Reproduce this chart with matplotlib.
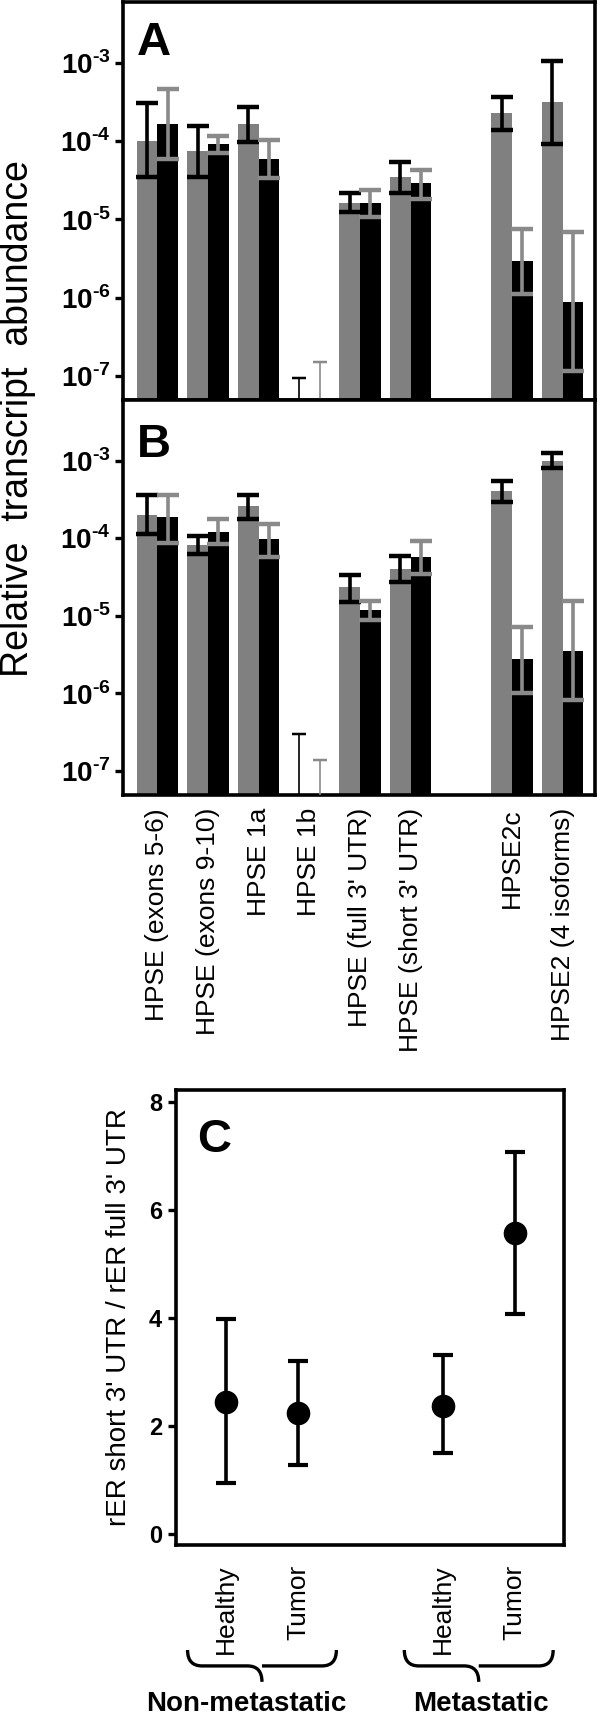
import matplotlib
matplotlib.use("Agg")
import matplotlib.pyplot as plt
import numpy as np
from matplotlib.path import Path
from matplotlib.patches import PathPatch

plt.rcParams['font.family'] = ['Liberation Sans', 'DejaVu Sans']
plt.rcParams['mathtext.fontset'] = 'custom'
plt.rcParams['mathtext.rm'] = 'Liberation Sans:bold'
plt.rcParams['mathtext.bf'] = 'Liberation Sans:bold'

# ---------------- data ----------------
genes = ["HPSE (exons 5-6)", "HPSE (exons 9-10)", "HPSE 1a", "HPSE 1b",
         "HPSE (full 3' UTR)", "HPSE (short 3' UTR)", "HPSE2c", "HPSE2 (4 isoforms)"]
gene_pos = [0, 1, 2, 3, 4, 5, 7, 8]

# panel A  (gray = healthy, black = tumor)
a_gray = [1.0e-4, 7.4e-5, 1.65e-4, 1e-8, 1.6e-5, 3.5e-5, 2.3e-4, 3.2e-4]
a_gray_lo = [3.5e-5, 3.5e-5, 9.7e-5, 1e-9, 1.23e-5, 2.2e-5, 1.38e-4, 9.1e-5]
a_gray_hi = [3.1e-4, 1.55e-4, 2.7e-4, 9.3e-8, 2.15e-5, 5.5e-5, 3.7e-4, 1.07e-3]
a_black = [1.65e-4, 9.1e-5, 6.0e-5, 1e-8, 1.6e-5, 2.9e-5, 2.95e-6, 8.9e-7]
a_black_lo = [5.9e-5, 7.0e-5, 3.4e-5, 1e-9, 1.07e-5, 1.8e-5, 1.12e-6, 1.15e-7]
a_black_hi = [4.6e-4, 1.15e-4, 1.04e-4, 1.48e-7, 2.35e-5, 4.3e-5, 7.6e-6, 7.0e-6]

# panel B
b_gray = [2.0e-4, 8.1e-5, 2.6e-4, 1e-8, 2.35e-5, 4.0e-5, 4.0e-4, 1.0e-3]
b_gray_lo = [1.12e-4, 6.3e-5, 1.74e-4, 1e-9, 1.5e-5, 2.75e-5, 2.9e-4, 7.9e-4]
b_gray_hi = [3.6e-4, 1.07e-4, 3.6e-4, 3.0e-7, 3.4e-5, 5.9e-5, 5.4e-4, 1.26e-3]
b_black = [1.85e-4, 1.2e-4, 9.8e-5, 1e-8, 1.2e-5, 5.8e-5, 2.8e-6, 3.5e-6]
b_black_lo = [8.7e-5, 8.3e-5, 5.7e-5, 1e-9, 8.9e-6, 3.5e-5, 1.0e-6, 8.1e-7]
b_black_hi = [3.6e-4, 1.74e-4, 1.5e-4, 1.4e-7, 1.55e-5, 9.1e-5, 7.2e-6, 1.55e-5]

# panel C
c_labels = ["Healthy", "Tumor", "Healthy", "Tumor"]
c_pos = [1, 2, 4, 5]
c_vals = [2.44, 2.24, 2.37, 5.57]
c_lo = [0.94, 1.28, 1.50, 4.07]
c_hi = [3.98, 3.20, 3.31, 7.07]
groups = ["Non-metastatic", "Metastatic"]
group_pos = [1.5, 4.5]

GRAY = "#808080"
EGRAY = "#8a8a8a"
ymin, ymax = 10 ** -7.31, 10 ** -2.22

fig = plt.figure(figsize=(6, 17.16), dpi=100)
axA = fig.add_axes([0.205, 0.7669, 0.7867, 0.2319])
axB = fig.add_axes([0.205, 0.5367, 0.7867, 0.2302])
axC = fig.add_axes([0.2933, 0.0997, 0.6467, 0.2651])


def bar_panel(ax, g, glo, ghi, k, klo, khi, letter, ly):
    x = np.array(gene_pos, dtype=float)
    w = 0.41
    ax.bar(x - w / 2, g, w, color=GRAY, zorder=1)
    ax.bar(x + w / 2, k, w, color="black", zorder=1)
    for i in range(len(x)):
        thin = g[i] < ymin
        lw = 1.2 if thin else 2.6
        cs = 5 if thin else 8
        ax.errorbar(x[i] - w / 2, g[i], yerr=[[g[i] - glo[i]], [ghi[i] - g[i]]],
                    fmt="none", ecolor="black", elinewidth=lw, capsize=cs,
                    capthick=lw + 0.6, zorder=3, clip_on=True)
        ax.errorbar(x[i] + w / 2, k[i], yerr=[[k[i] - klo[i]], [khi[i] - k[i]]],
                    fmt="none", ecolor=EGRAY, elinewidth=lw, capsize=cs,
                    capthick=lw + 0.6, zorder=3, clip_on=True)
    ax.set_yscale("log")
    ax.set_ylim(ymin, ymax)
    ax.set_xlim(-0.68, 8.64)
    ticks = [1e-7, 1e-6, 1e-5, 1e-4, 1e-3]
    ax.set_yticks(ticks)
    ax.set_yticklabels([r"$10^{\text{-}%d}$" % e for e in range(7, 2, -1)], fontsize=20)
    ax.minorticks_off()
    ax.tick_params(axis="y", direction="out", length=6, width=2.4, pad=3)
    ax.set_xticks([])
    for s in ax.spines.values():
        s.set_linewidth(2.6)
    ax.text(0.03, ly, letter, transform=ax.transAxes, fontsize=34,
            fontweight="bold", va="baseline")


bar_panel(axA, a_gray, a_gray_lo, a_gray_hi, a_black, a_black_lo, a_black_hi, "A", 0.867)
bar_panel(axB, b_gray, b_gray_lo, b_gray_hi, b_black, b_black_lo, b_black_hi, "B", 0.855)

for p, name in zip(gene_pos, genes):
    axB.text(p, -0.033, name, transform=axB.get_xaxis_transform(), rotation=90,
             ha="center", va="top", fontsize=19)

fig.text(0.03, 0.6055, "Relative  transcript  abundance", rotation=90,
         ha="center", va="bottom", fontsize=27)

# panel C
axC.errorbar(c_pos, c_vals,
             yerr=[np.array(c_vals) - np.array(c_lo), np.array(c_hi) - np.array(c_vals)],
             fmt="o", color="black", markersize=16, elinewidth=2.6, capsize=7,
             capthick=3)
axC.set_xlim(0.31, 5.68)
axC.set_ylim(-0.2, 8.22)
axC.set_yticks([0, 2, 4, 6, 8])
axC.set_yticklabels(["0", "2", "4", "6", "8"], fontsize=17, fontweight="bold")
axC.tick_params(axis="y", direction="out", length=6, width=2.4, pad=4)
axC.set_xticks(c_pos)
axC.set_xticklabels(c_labels, rotation=90, fontsize=19)
axC.tick_params(axis="x", length=0, pad=14)
for s in axC.spines.values():
    s.set_linewidth(2.6)
axC.set_ylabel("rER short 3' UTR / rER full 3' UTR", fontsize=20, labelpad=12)
axC.text(0.055, 0.864, "C", transform=axC.transAxes, fontsize=34,
         fontweight="bold", va="baseline")

# braces under the groups
trans = axC.get_xaxis_transform()
for gp, gname in zip(group_pos, groups):
    x0, x1 = gp - 1.03, gp + 1.03
    top, mid, tip = -0.231, -0.266, -0.301
    r = 0.2
    verts = [(x0, top), (x0, mid), (x0 + r, mid),
             (gp - r, mid), (gp, mid), (gp, tip),
             (gp, mid), (gp + r, mid),
             (x1 - r, mid), (x1, mid), (x1, top)]
    codes = [Path.MOVETO, Path.CURVE3, Path.CURVE3,
             Path.LINETO, Path.CURVE3, Path.CURVE3,
             Path.MOVETO, Path.LINETO,
             Path.LINETO, Path.CURVE3, Path.CURVE3]
    axC.add_patch(PathPatch(Path(verts, codes), fill=False, lw=2.4,
                            transform=trans, clip_on=False))
    tx = gp - 0.22 if gname.startswith("Non") else gp + 0.03
    axC.text(tx, -0.35, gname, transform=trans, ha="center", va="center",
             fontsize=20, fontweight="bold")

fig.savefig("out.png", dpi=100)
